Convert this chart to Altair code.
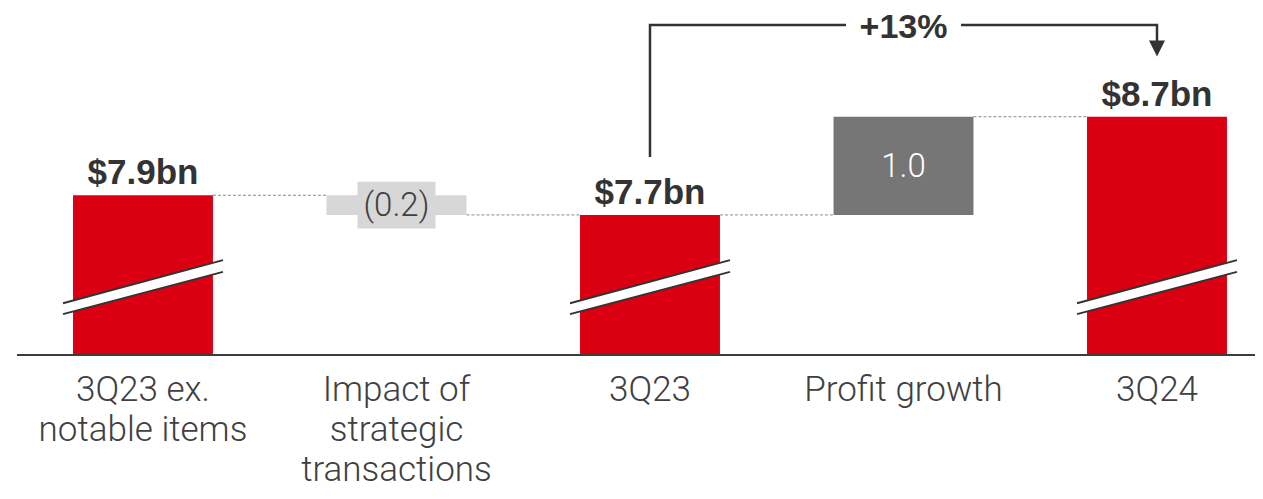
import altair as alt
import pandas as pd

# ---------------- data ----------------
categories = ["3Q23 ex.\nnotable items", "Impact of\nstrategic\ntransactions", "3Q23", "Profit growth", "3Q24"]
values = [7.9, -0.2, 7.7, 1.0, 8.7]
kinds = ["total", "delta", "total", "delta", "total"]
value_labels = ["$7.9bn", "(0.2)", "$7.7bn", "1.0", "$8.7bn"]
growth_label = "+13%"
growth_from = 2   # index of 3Q23
growth_to = 4     # index of 3Q24

# ---------------- layout constants (data units of the broken axis) ----------------
W, H = 1247, 483
AXIS_BASE = 6.274          # value at which the (broken) axis line sits
X_DOMAIN = [-0.5325, 4.3866]
Y_DOMAIN = [4.889, 9.807]
HALF_BAR = 0.276
BREAK_HALF = 0.3156
BREAK_UP = (6.80, 7.24)    # upper break line: left, right
BREAK_LO = (6.69, 7.12)    # lower break line: left, right
ARROW_FROM = 8.29
ARROW_TOP = 9.634
ARROW_END = 9.46
ARROW_HEAD = 9.395

RED = "#DB0011"
DARK_GREY = "#767676"
LIGHT_GREY = "#D7D7D7"
TEXT_DARK = "#333333"
TEXT_MID = "#404040"
LIGHT_FONT = "Roboto"
BOLD_FONT = "Liberation Sans"

# ---------------- build tables ----------------
rows = []
running = 0.0
for i, (c, v, k, lab) in enumerate(zip(categories, values, kinds, value_labels)):
    if k == "total":
        start, end = AXIS_BASE, v
        running = v
        color = RED
    else:
        start, end = running, running + v
        running = running + v
        color = DARK_GREY if v > 0 else LIGHT_GREY
    rows.append(dict(idx=i, cat=c, kind=k, start=start, end=end,
                     top=max(start, end), mid=(start + end) / 2,
                     x0=i - HALF_BAR, x1=i + HALF_BAR, color=color, label=lab,
                     base_y=AXIS_BASE,
                     lab_color=("white" if (k == "delta" and v > 0) else TEXT_MID)))
df = pd.DataFrame(rows)

# connectors between consecutive bars
conn = []
for i in range(len(rows) - 1):
    conn.append(dict(x0=i + HALF_BAR, x1=i + 1 - HALF_BAR, y=rows[i]["end"]))
conn_df = pd.DataFrame(conn)

# break marks on total bars
brk_area, brk_line = [], []
for r in rows:
    if r["kind"] != "total":
        continue
    i = r["idx"]
    for side, xv in ((0, i - BREAK_HALF), (1, i + BREAK_HALF)):
        brk_area.append(dict(bar=i, x=xv, yu=BREAK_UP[side], yl=BREAK_LO[side]))
        brk_line.append(dict(line=f"{i}u", x=xv, y=BREAK_UP[side]))
        brk_line.append(dict(line=f"{i}l", x=xv, y=BREAK_LO[side]))
brk_area_df = pd.DataFrame(brk_area)
brk_line_df = pd.DataFrame(brk_line)

axis_df = pd.DataFrame([dict(x0=-0.497, x1=X_DOMAIN[1], y=AXIS_BASE)])

arrow_df = pd.DataFrame([
    dict(o=0, x=growth_from, y=ARROW_FROM),
    dict(o=1, x=growth_from, y=ARROW_TOP),
    dict(o=2, x=growth_to, y=ARROW_TOP),
    dict(o=3, x=growth_to, y=ARROW_END),
])
head_df = pd.DataFrame([dict(x=growth_to, y=ARROW_HEAD)])
growth_df = pd.DataFrame([dict(x=(growth_from + growth_to) / 2, y=ARROW_TOP, label=growth_label)])

xs = alt.Scale(domain=X_DOMAIN, nice=False, zero=False)
ys = alt.Scale(domain=Y_DOMAIN, nice=False, zero=False)

def X(f):
    return alt.X(f, type="quantitative", scale=xs, axis=None)

def Y(f):
    return alt.Y(f, type="quantitative", scale=ys, axis=None)

base = alt.Chart(df)

bars = base.mark_rect().encode(
    x=X("x0"), x2="x1", y=Y("start"), y2="end",
    color=alt.Color("color:N", scale=None),
)

connectors = alt.Chart(conn_df).mark_rule(color="#8a8a8a", strokeWidth=1, strokeDash=[3, 2]).encode(
    x=X("x0"), x2="x1", y=Y("y"),
)

brk_fill = alt.Chart(brk_area_df).mark_area(color="white", opacity=1).encode(
    x=X("x"), y=Y("yu"), y2="yl", detail="bar:N",
)
brk_lines = alt.Chart(brk_line_df).mark_line(color="#333333", strokeWidth=2).encode(
    x=X("x"), y=Y("y"), detail="line:N",
)

axis_line = alt.Chart(axis_df).mark_rule(color="#3c3c3c", strokeWidth=2).encode(
    x=X("x0"), x2="x1", y=Y("y"),
)

total_labels = base.transform_filter(alt.datum.kind == "total").mark_text(
    font=BOLD_FONT, fontSize=35, fontWeight="bold", color=TEXT_DARK,
    baseline="alphabetic", align="center", dy=-11,
).encode(x=X("idx"), y=Y("top"), text="label:N")

neg_box = base.transform_filter((alt.datum.kind == "delta") & (alt.datum.start > alt.datum.end)).mark_point(
    shape="M-1,-0.6H1V0.6H-1Z", filled=True, color=LIGHT_GREY, opacity=1, size=6084, strokeWidth=0,
).encode(x=X("idx"), y=Y("mid"))

delta_labels = base.transform_filter(alt.datum.kind == "delta").mark_text(
    font=LIGHT_FONT, fontWeight=300, fontSize=33, baseline="middle", align="center", dy=1,
).encode(x=X("idx"), y=Y("mid"), text="label:N", color=alt.Color("lab_color:N", scale=None))

cat_labels = base.mark_text(
    font=LIGHT_FONT, fontWeight=300, fontSize=35, color=TEXT_MID, baseline="alphabetic",
    align="center", lineBreak="\n", lineHeight=40, dy=46,
).encode(
    x=X("idx"), y=Y("base_y"), text="cat:N",
)

arrow_line = alt.Chart(arrow_df).mark_line(color="#333333", strokeWidth=2.5).encode(
    x=X("x"), y=Y("y"), order="o:Q",
)
arrow_head = alt.Chart(head_df).mark_point(
    shape="M-1,-1L1,-1L0,1Z", filled=True, color="#333333", opacity=1, size=256,
).encode(x=X("x"), y=Y("y"))

growth_box = alt.Chart(growth_df).mark_point(
    shape="M-1,-0.25H1V0.25H-1Z", filled=True, color="white", opacity=1, size=13225,
).encode(x=X("x"), y=Y("y"))
growth_text = alt.Chart(growth_df).mark_text(
    font=BOLD_FONT, fontSize=34, fontWeight="bold", color=TEXT_DARK,
    baseline="middle", align="center", dy=3,
).encode(x=X("x"), y=Y("y"), text="label:N")

chart = alt.layer(
    bars, connectors, brk_fill, brk_lines, axis_line, total_labels, neg_box,
    delta_labels, cat_labels, arrow_line, arrow_head, growth_box, growth_text,
).properties(
    width=W, height=H, padding=0, background="white",
    autosize=alt.AutoSizeParams(type="none"),
).configure_view(stroke=None)

chart.save("out.html", embed_options={"renderer": "svg", "actions": False})
